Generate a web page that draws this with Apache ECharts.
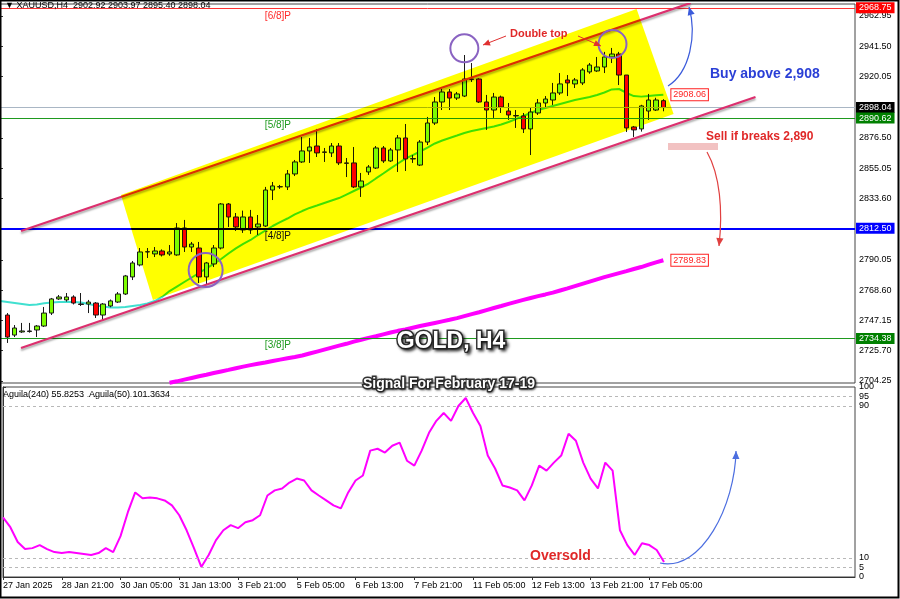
<!DOCTYPE html>
<html><head><meta charset="utf-8">
<script src="https://cdn.jsdelivr.net/npm/echarts@6.0.0/dist/echarts.min.js"></script>
<style>html,body{margin:0;padding:0;background:#fff;}#main{width:900px;height:599px;}</style>
</head><body><div id="main"></div>
<script>
// ---------------- DATA ----------------
const timeLabels = ['27 Jan 2025','28 Jan 21:00','30 Jan 05:00','31 Jan 13:00','3 Feb 21:00','5 Feb 05:00','6 Feb 13:00','7 Feb 21:00','11 Feb 05:00','12 Feb 13:00','13 Feb 21:00','17 Feb 05:00'];
const labelBars = [0,8,16,24,32,40,48,56,64,72,80,88];
const priceTicks = [2704.25,2725.70,2747.15,2768.60,2790.05,2833.60,2855.05,2876.50,2920.05,2941.50,2962.95];
const aguilaTicks = [0,5,10,90,95,100];

const candleBars = [1,2,3,4,5,6,7,8,9,10,11,12,13,14,15,16,17,18,19,20,21,22,23,24,25,26,27,28,29,30,31,32,33,34,35,36,37,38,39,40,41,42,43,44,45,46,47,48,49,50,51,52,53,54,55,56,57,58,59,60,61,62,63,64,65,66,67,68,69,70,71,72,73,74,75,76,77,78,79,80,81,82,83,84,85,86,87,88,89,90];
const openP = [2751.0,2736.8,2739.0,2739.3,2740.4,2743.2,2752.4,2762.4,2761.7,2763.8,2758.8,2758.8,2759.5,2751.0,2757.4,2760.2,2765.9,2778.0,2786.5,2795.7,2794.3,2796.4,2794.3,2793.6,2812.7,2799.2,2798.5,2778.0,2787.2,2798.5,2829.7,2820.5,2811.3,2820.5,2813.4,2814.1,2839.6,2841.8,2841.8,2851.0,2859.5,2867.3,2870.8,2866.6,2865.9,2870.8,2858.8,2858.8,2841.8,2852.4,2855.2,2869.4,2860.2,2868.0,2876.5,2861.6,2857.3,2873.6,2887.1,2902.0,2909.1,2904.8,2906.2,2918.3,2918.3,2902.0,2896.3,2905.5,2895.6,2892.1,2892.1,2882.9,2894.2,2901.3,2903.4,2908.4,2917.6,2914.8,2915.5,2923.3,2924.0,2926.8,2933.9,2936.0,2921.1,2884.3,2882.9,2895.6,2896.3,2902.92];
const closeP = [2735.4,2741.8,2739.7,2739.7,2743.2,2752.4,2762.4,2763.8,2763.8,2759.5,2758.5,2760.2,2751.0,2758.8,2761.0,2765.9,2778.7,2787.9,2795.7,2795.9,2796.4,2793.6,2795.7,2812.7,2799.2,2801.3,2778.0,2787.9,2798.5,2829.7,2820.5,2813.4,2820.5,2811.3,2815.5,2839.6,2842.5,2842.0,2851.0,2859.5,2867.3,2870.1,2865.9,2866.3,2870.8,2858.8,2858.5,2841.8,2846.0,2855.9,2869.4,2860.2,2868.0,2876.5,2861.6,2861.9,2873.6,2887.1,2902.0,2909.1,2904.8,2907.7,2918.3,2918.0,2902.0,2896.3,2905.5,2898.4,2892.8,2892.4,2882.9,2894.9,2901.3,2904.1,2908.4,2914.8,2915.5,2917.6,2924.7,2928.2,2926.8,2933.9,2936.0,2921.1,2883.6,2882.2,2899.2,2903.4,2903.4,2898.04];
const lowP = [2731.2,2735.4,2738.3,2738.5,2735.4,2742.5,2751.0,2761.7,2760.5,2758.5,2757.4,2752.4,2748.9,2747.5,2756.5,2759.5,2765.2,2775.8,2785.5,2791.4,2792.1,2792.5,2793.0,2793.0,2795.7,2795.7,2773.7,2772.3,2785.0,2797.5,2813.4,2810.6,2809.2,2808.5,2807.7,2813.4,2832.5,2840.4,2839.6,2849.5,2858.8,2858.8,2863.0,2859.5,2863.0,2857.3,2848.8,2841.0,2834.7,2850.3,2854.5,2858.8,2859.5,2852.4,2853.1,2858.8,2856.6,2871.5,2885.7,2896.3,2896.3,2903.4,2905.5,2916.2,2901.3,2882.2,2890.7,2894.2,2889.3,2883.6,2880.0,2864.4,2892.8,2898.4,2899.9,2907.0,2906.2,2911.9,2914.0,2922.0,2923.3,2922.5,2929.6,2914.0,2880.7,2877.2,2881.0,2889.3,2895.6,2895.40];
const highP = [2752.4,2743.9,2745.4,2745.4,2743.9,2756.7,2763.1,2765.2,2766.6,2765.0,2766.6,2761.7,2760.2,2759.5,2762.0,2767.3,2779.4,2789.3,2798.5,2798.5,2799.2,2797.5,2800.6,2816.2,2818.4,2802.8,2802.8,2788.6,2800.6,2830.4,2830.4,2823.3,2825.0,2825.5,2821.9,2841.8,2845.3,2843.2,2853.8,2860.9,2877.2,2876.5,2882.9,2869.4,2872.9,2872.9,2862.3,2870.1,2851.7,2857.3,2870.8,2870.8,2869.4,2878.6,2886.4,2864.4,2875.0,2891.4,2905.5,2911.2,2911.2,2909.1,2935.3,2929.6,2918.8,2907.0,2908.4,2906.5,2901.3,2896.3,2894.2,2898.4,2904.1,2906.2,2915.5,2922.5,2921.1,2919.0,2926.0,2929.6,2933.9,2937.5,2940.3,2937.5,2921.1,2885.0,2900.0,2907.7,2905.0,2903.97];

// fast moving average (bars 0..90)
const maFast = [2760.9,2760.2,2759.5,2758.8,2758.1,2758.5,2759.3,2759.8,2760.2,2760.2,2760.2,2759.9,2758.8,2757.8,2757.1,2756.3,2756.3,2756.7,2757.4,2758.1,2759.2,2760.9,2763.8,2768.0,2771.2,2774.4,2777.6,2780.8,2784.0,2787.2,2790.7,2794.6,2798.2,2801.4,2804.2,2807.7,2810.9,2814.1,2816.9,2819.4,2822.3,2824.7,2826.9,2828.6,2830.4,2832.2,2833.9,2836.4,2838.9,2841.4,2844.2,2847.8,2851.3,2854.9,2858.4,2861.9,2864.4,2866.9,2869.7,2872.6,2874.7,2876.5,2878.2,2880.0,2881.4,2882.5,2883.6,2884.6,2886.0,2887.8,2889.9,2892.1,2894.2,2896.3,2897.7,2899.2,2900.6,2902.0,2903.4,2904.5,2905.5,2907.0,2908.7,2910.9,2911.2,2908.4,2906.2,2905.8,2906.3,2906.8,2907.2];
const maFastLabel = 2908.06;
// slow moving average (bars 23..90)
const maSlowStart = 23;
const maSlow = [2703.0,2704.0,2705.2,2706.4,2707.6,2708.7,2709.9,2711.0,2712.1,2713.3,2714.4,2715.5,2716.5,2717.4,2718.4,2719.4,2720.4,2721.3,2722.3,2723.7,2725.1,2726.5,2727.9,2729.3,2730.6,2732.1,2733.5,2734.8,2736.0,2737.3,2738.6,2739.8,2740.8,2742.0,2743.2,2744.3,2745.4,2746.5,2747.6,2748.8,2750.2,2751.6,2753.0,2754.5,2756.0,2757.4,2758.9,2760.3,2761.7,2763.1,2764.4,2765.6,2766.9,2768.4,2769.9,2771.5,2773.1,2774.7,2776.3,2777.9,2779.3,2780.7,2782.1,2783.6,2785.0,2786.7,2788.3,2789.83];
// Aguila oscillator (bars 0..90)
const aguila = [31.4,26.2,18.4,14.7,15.2,16.8,14.7,13.1,12.6,13.1,12.6,12.1,11.6,12.6,15.2,13.1,21.5,34.1,44.5,41.4,41.9,41.4,40.3,37.7,32.5,24.6,15.2,5.3,11.6,19.4,24.6,27.3,25.7,28.8,29.9,32.5,42.9,45.6,46.6,49.7,51.8,50.8,45.6,42.9,40.3,37.7,36.1,44.5,50.8,53.4,66.5,67.5,65.5,69.1,70.7,61.2,58.6,66.5,75.9,82.2,86.3,82.2,90.0,94.2,86.3,79.5,63.9,57.1,48.2,47.1,45.6,40.3,48.2,58.6,56.0,60.2,63.9,75.4,71.7,60.2,51.8,46.6,60.2,56.0,24.6,16.8,11.6,17.8,16.8,14.2,7.9];
const aguilaHeader = {a240: 55.8253, a50: 101.3634};

// horizontal levels
const levelRed = 2968.75, levelBid = 2898.04, level58 = 2890.62, level48 = 2812.50, level38 = 2734.38;
// channel lines [barIndex, price]
const channelUpper = [[2.85, 2810.6], [93.7, 2972.2]];
const channelLower = [[2.85, 2727.6], [102.5, 2905.5]];
// yellow channel box corners [barIndex, price]
const yellowBox = [[16.41, 2836.1], [86.37, 2967.9], [91.39, 2893.5], [20.75, 2761.7]];
// circles [barIndex, price, radius px]
const circles = [[63, 2940.0, 14], [83.1, 2943.1, 14], [27.9, 2782.9, 17]];

// ---------------- CHART ----------------
const FONT = 'Liberation Sans';
const chart = echarts.init(document.getElementById('main'));
const candleData = candleBars.map((b, k) => [b, openP[k], closeP[k], lowP[k], highP[k]]);
const maFastData = maFast.map((v, i) => [i, v]);
const maSlowData = maSlow.map((v, k) => [maSlowStart + k, v]);
const aguilaData = aguila.map((v, i) => [i, v]);

function lvl(value, lineColor, boxColor, width) {
  return {
    yAxis: value,
    lineStyle: {color: lineColor, width: width || 1, type: 'solid'},
    label: {show: true, position: 'end', distance: 1, formatter: value.toFixed(2),
      backgroundColor: boxColor, color: '#fff', fontSize: 9, fontFamily: FONT, padding: [1, 3, 1, 3]}
  };
}

const option = {
  backgroundColor: '#ffffff',
  animation: false,
  grid: [
    {left: -1, right: 45, top: 4, height: 379, show: true, borderColor: '#444', borderWidth: 1},
    {left: -1, right: 45, top: 387, height: 190, show: true, borderColor: '#444', borderWidth: 1}
  ],
  xAxis: [
    {type: 'value', gridIndex: 0, min: 0, max: 116, show: false},
    {type: 'value', gridIndex: 1, min: 0, max: 116,
      axisLine: {show: true, lineStyle: {color: '#333'}},
      axisTick: {show: true, length: 3, customValues: labelBars, lineStyle: {color: '#333'}},
      splitLine: {show: false},
      axisLabel: {customValues: labelBars, align: 'left', fontSize: 9, fontFamily: FONT, color: '#000', margin: 4,
        formatter: v => timeLabels[labelBars.indexOf(Math.round(v))] || ''}}
  ],
  yAxis: [
    {type: 'value', gridIndex: 0, position: 'right', min: 2702.82, max: 2971.45, scale: true,
      axisLine: {show: true, lineStyle: {color: '#333'}},
      axisTick: {show: true, length: 3, customValues: priceTicks, lineStyle: {color: '#333'}},
      splitLine: {show: false},
      axisLabel: {customValues: priceTicks, fontSize: 9, fontFamily: FONT, color: '#000', margin: 4,
        formatter: v => v.toFixed(2)}},
    {type: 'value', gridIndex: 1, position: 'right', min: 0, max: 100,
      axisLine: {show: true, lineStyle: {color: '#333'}},
      axisTick: {show: true, length: 3, customValues: aguilaTicks, lineStyle: {color: '#333'}},
      splitLine: {show: false},
      axisLabel: {customValues: aguilaTicks, fontSize: 9, fontFamily: FONT, color: '#000', margin: 4}}
  ],
  series: [
    {type: 'line', xAxisIndex: 0, yAxisIndex: 0, data: [], z: 1, silent: true,
      markLine: {symbol: 'none', silent: true, animation: false,
        data: [lvl(levelRed, '#ff3030', '#ff0000'), lvl(levelBid, '#a9b6c4', '#000000'),
               lvl(level58, '#1f9a1f', '#008000'), lvl(level48, '#0000ff', '#0000ff', 2),
               lvl(level38, '#1f9a1f', '#008000')]}},
    {type: 'line', xAxisIndex: 0, yAxisIndex: 0, data: maSlowData, showSymbol: false, z: 3,
      lineStyle: {color: '#ff00ff', width: 4}, itemStyle: {color: '#ff00ff'},
      endLabel: {show: true, formatter: p => p.value[1].toFixed(2), distance: 8, color: '#ff2020', fontSize: 9,
        fontFamily: FONT, backgroundColor: '#fff', borderColor: '#ff2020', borderWidth: 1, padding: [1, 2, 1, 2]}},
    {type: 'line', xAxisIndex: 0, yAxisIndex: 0, data: maFastData, showSymbol: false, z: 3,
      lineStyle: {color: '#40e0d0', width: 2}, itemStyle: {color: '#40e0d0'},
      endLabel: {show: true, formatter: () => maFastLabel.toFixed(2), distance: 8, color: '#ff2020', fontSize: 9,
        fontFamily: FONT, backgroundColor: '#fff', borderColor: '#ff2020', borderWidth: 1, padding: [1, 2, 1, 2]}},
    {type: 'candlestick', xAxisIndex: 0, yAxisIndex: 0, data: candleData, barWidth: 5, z: 4,
      encode: {x: 0, y: [1, 2, 3, 4]},
      itemStyle: {color: '#7cfc00', color0: '#ff0000', borderColor: '#1a1a1a', borderColor0: '#1a1a1a', borderWidth: 1}},
    {type: 'line', xAxisIndex: 0, yAxisIndex: 0, data: channelUpper, showSymbol: false, z: 5,
      lineStyle: {color: '#dc2f6e', width: 2.2, shadowColor: 'rgba(0,0,0,0.35)', shadowBlur: 2, shadowOffsetY: 2}},
    {type: 'line', xAxisIndex: 0, yAxisIndex: 0, data: channelLower, showSymbol: false, z: 5,
      lineStyle: {color: '#dc2f6e', width: 2.2, shadowColor: 'rgba(0,0,0,0.35)', shadowBlur: 2, shadowOffsetY: 2}},
    {type: 'custom', xAxisIndex: 0, yAxisIndex: 0, data: [0], z: 20, silent: true, clip: true,
      blendMode: 'multiply',
      renderItem: (params, api) => ({
        type: 'polygon',
        shape: {points: yellowBox.map(c => api.coord(c))},
        style: {fill: '#ffff00'}
      })},
    {type: 'line', xAxisIndex: 1, yAxisIndex: 1, data: aguilaData, showSymbol: false, z: 3,
      lineStyle: {color: '#ff00ff', width: 2},
      markLine: {symbol: 'none', silent: true, label: {show: false},
        lineStyle: {color: '#b8b8b8', type: [3, 3], width: 1},
        data: [{yAxis: 95}, {yAxis: 90}, {yAxis: 10}, {yAxis: 5}]}}
  ]
};
chart.setOption(option);

// ---------------- ANNOTATIONS ----------------
function head(x, y, dx, dy, size, color) {
  const L = Math.hypot(dx, dy) || 1, ux = dx / L, uy = dy / L;
  const bx = x - ux * size, by = y - uy * size, px = -uy, py = ux;
  return {type: 'polygon', z: 100, shape: {points: [[x, y], [bx + px * size * 0.45, by + py * size * 0.45], [bx - px * size * 0.45, by - py * size * 0.45]]},
    style: {fill: color}};
}
function curve(x1, y1, c1x, c1y, c2x, c2y, x2, y2, color) {
  return [
    {type: 'bezierCurve', z: 100, shape: {x1: x1, y1: y1, cpx1: c1x, cpy1: c1y, cpx2: c2x, cpy2: c2y, x2: x2, y2: y2},
      style: {stroke: color, lineWidth: 1.2, fill: null}},
    head(x2, y2, x2 - c2x, y2 - c2y, 8, color)
  ];
}
function straight(x1, y1, x2, y2, color) {
  return [
    {type: 'line', z: 100, shape: {x1: x1, y1: y1, x2: x2, y2: y2}, style: {stroke: color, lineWidth: 1}},
    head(x2, y2, x2 - x1, y2 - y1, 7, color)
  ];
}
function txt(x, y, text, opt) {
  return {type: 'text', z: 110, x: x, y: y, style: Object.assign({text: text, fontFamily: FONT, fontSize: 10, fill: '#000',
    align: 'left', verticalAlign: 'middle'}, opt || {})};
}
const last = candleBars.length - 1;
const els = [];
circles.forEach(c => {
  const p = chart.convertToPixel({xAxisIndex: 0, yAxisIndex: 0}, [c[0], c[1]]);
  els.push({type: 'circle', z: 100, shape: {cx: p[0], cy: p[1], r: c[2]}, style: {stroke: '#8a63c2', lineWidth: 2, fill: null}});
});
els.push({type: 'rect', z: 100, shape: {x: 668, y: 143, width: 50, height: 7}, style: {fill: '#f2c2c2'}});
els.push(...straight(506, 36, 483, 45, '#e03030'));
els.push(...straight(578, 36, 601, 46, '#e03030'));
els.push(...curve(668, 86, 690, 72, 697, 35, 689, 7, '#3b5bdb'));
els.push(...curve(707, 152, 720, 175, 723, 210, 719, 246, '#e04040'));
els.push(...curve(660, 563, 702, 572, 735, 505, 736, 451, '#4c6ee0'));
els.push(txt(5, 6, '\u25BC XAUUSD,H4  ' + openP[last] + ' ' + highP[last] + ' ' + lowP[last].toFixed(2) + ' ' + closeP[last], {fontSize: 9}));
els.push(txt(3, 395, 'Aguila(240) ' + aguilaHeader.a240 + '  Aguila(50) ' + aguilaHeader.a50, {fontSize: 9}));
els.push(txt(291, 16, '[6/8]P', {fill: '#ff2a2a', align: 'right'}));
els.push(txt(291, 125, '[5/8]P', {fill: '#1f9a1f', align: 'right'}));
els.push(txt(291, 236, '[4/8]P', {fill: '#111', align: 'right'}));
els.push(txt(291, 345, '[3/8]P', {fill: '#1f9a1f', align: 'right'}));
els.push(txt(510, 34, 'Double top', {fill: '#e02828', fontWeight: 'bold', fontSize: 11}));
els.push(txt(710, 74, 'Buy above 2,908', {fill: '#2a3fd6', fontWeight: 'bold', fontSize: 14}));
els.push(txt(706, 137, 'Sell if breaks 2,890', {fill: '#e02828', fontWeight: 'bold', fontSize: 12}));
els.push(txt(530, 556, 'Oversold', {fill: '#e02828', fontWeight: 'bold', fontSize: 14}));
els.push(txt(451, 342, 'GOLD, H4', {fill: '#ffffff', stroke: '#333', lineWidth: 3, fontWeight: 'bold', fontSize: 23, align: 'center',
  textShadowColor: 'rgba(0,0,0,0.6)', textShadowBlur: 3, textShadowOffsetX: 2, textShadowOffsetY: 2}));
els.push(txt(449, 384, 'Signal For February 17-19', {fill: '#ffffff', stroke: '#333', lineWidth: 3, fontWeight: 'bold', fontSize: 14, align: 'center',
  textShadowColor: 'rgba(0,0,0,0.5)', textShadowBlur: 2, textShadowOffsetX: 1, textShadowOffsetY: 1}));
els.push({type: 'rect', z: 120, shape: {x: 0.5, y: 0.5, width: 898, height: 597}, style: {stroke: '#000', lineWidth: 2, fill: null}});
chart.setOption({graphic: {elements: els}});
</script></body></html>
